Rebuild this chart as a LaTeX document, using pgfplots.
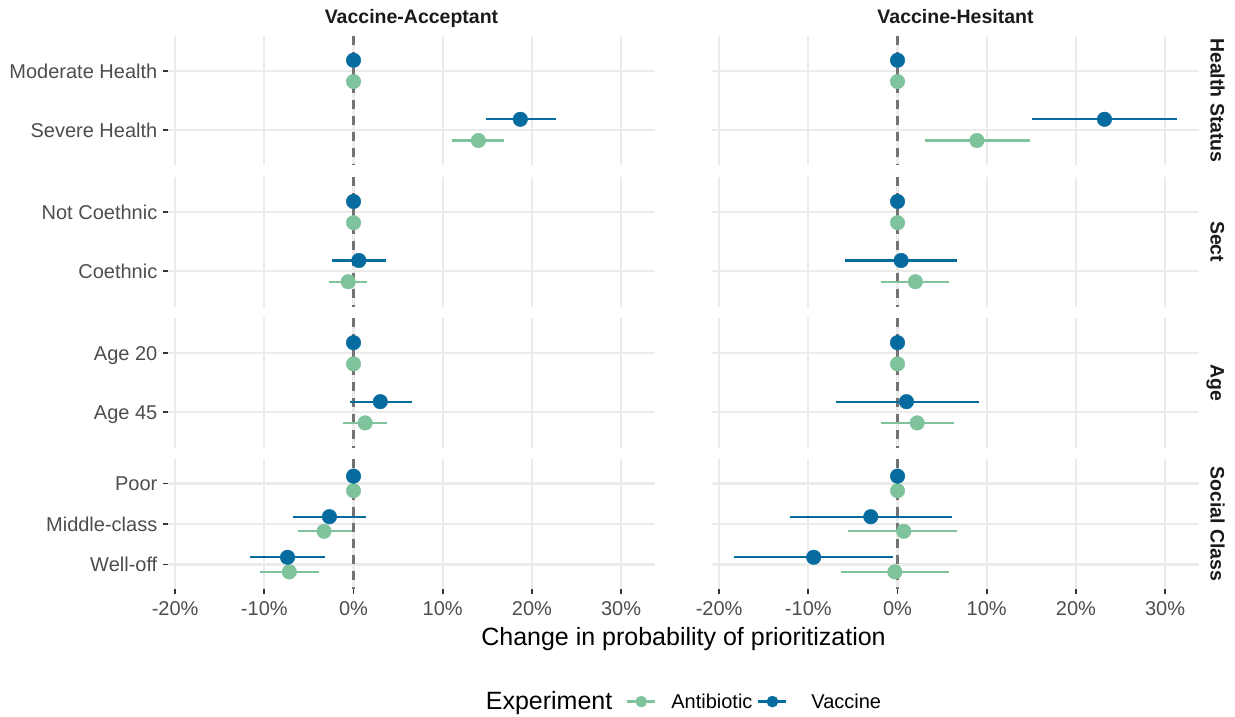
\documentclass[border=0pt]{standalone}
\usepackage{pgfplots}
\pgfplotsset{compat=1.18}
\usepackage{pgfplotstable}
\usepackage{fontspec}
\setmainfont{Liberation Sans}
\definecolor{cVac}{HTML}{066B9F}
\definecolor{cAnt}{HTML}{7FC39D}
\definecolor{gridc}{HTML}{EBEBEB}
\definecolor{tickc}{HTML}{333333}
\definecolor{labc}{HTML}{4D4D4D}
\definecolor{stripc}{HTML}{1A1A1A}

% Vaccine-Acceptant
\pgfplotstableread{
pos vest vlo vhi aest alo ahi
1 0 0 0 0 0 0
2 18.7 14.9 22.7 14.0 11.0 16.9
}\AHealth
\pgfplotstableread{
pos vest vlo vhi aest alo ahi
1 0 0 0 0 0 0
2 0.6 -2.4 3.6 -0.6 -2.7 1.5
}\ASect
\pgfplotstableread{
pos vest vlo vhi aest alo ahi
1 0 0 0 0 0 0
2 3.0 -0.45 6.5 1.3 -1.2 3.8
}\AAge
\pgfplotstableread{
pos vest vlo vhi aest alo ahi
1 0 0 0 0 0 0
2 -2.7 -6.8 1.4 -3.3 -6.2 -0.2
3 -7.4 -11.6 -3.2 -7.2 -10.5 -3.9
}\AClass
% Vaccine-Hesitant
\pgfplotstableread{
pos vest vlo vhi aest alo ahi
1 0 0 0 0 0 0
2 23.2 15.1 31.3 8.9 3.1 14.8
}\HHealth
\pgfplotstableread{
pos vest vlo vhi aest alo ahi
1 0 0 0 0 0 0
2 0.4 -5.9 6.7 2.0 -1.8 5.8
}\HSect
\pgfplotstableread{
pos vest vlo vhi aest alo ahi
1 0 0 0 0 0 0
2 1.0 -6.9 9.1 2.2 -1.9 6.3
}\HAge
\pgfplotstableread{
pos vest vlo vhi aest alo ahi
1 0 0 0 0 0 0
2 -3.0 -12.1 6.1 0.7 -5.5 6.7
3 -9.4 -18.3 -0.5 -0.3 -6.3 5.8
}\HClass

\pgfplotsset{
  panel/.style={
    scale only axis, width=487pt, height=129.8pt,
    xmin=-20.8, xmax=33.8, ymin=0.4, y dir=reverse,
    axis line style={draw=none},
    xtick={-20,-10,0,10,20,30}, xticklabels={},
    xtick pos=bottom, ytick pos=left,
    grid=major, major grid style={line width=2.3pt, gridc},
    tick align=outside, major tick length=5pt,
    xtick style={draw=none}, ytick style={draw=none},
    ticklabel style={font=\fontsize{20}{24}\selectfont, text=labc, inner sep=0pt},
    yticklabel style={anchor=base east, yshift=-7.2pt, xshift=-5.5pt},
    xticklabel style={anchor=base, yshift=-21.5pt},
    clip=false,
  },
  leftp/.style={ytick style={draw=tickc, line width=1.8pt}},
  rightp/.style={yticklabels={}},
  bottomp/.style={xtick style={draw=tickc, line width=1.8pt},
    xticklabels={-20\%,-10\%,0\%,10\%,20\%,30\%}},
  vac/.style={forget plot, only marks, mark=*, mark size=7.3pt, color=cVac,
    mark options={draw=none, fill=cVac},
    error bars/.cd, x dir=both, x explicit, error mark=none,
    error bar style={line width=2.3pt, cVac}},
  ant/.style={forget plot, only marks, mark=*, mark size=7.3pt, color=cAnt,
    mark options={draw=none, fill=cAnt},
    error bars/.cd, x dir=both, x explicit, error mark=none,
    error bar style={line width=2.3pt, cAnt}},
}

\newcommand{\zeroline}[1]{\draw[black!55, line width=2.2pt, dash pattern=on 9pt off 7pt] (axis cs:0,0.4) -- (axis cs:0,#1);}
\newcommand{\plotpair}[1]{%
  \addplot[ant] table[x=aest, y expr=\thisrow{pos}+0.18,
    x error plus expr=\thisrow{ahi}-\thisrow{aest},
    x error minus expr=\thisrow{aest}-\thisrow{alo}] {#1};
  \addplot[vac] table[x=vest, y expr=\thisrow{pos}-0.18,
    x error plus expr=\thisrow{vhi}-\thisrow{vest},
    x error minus expr=\thisrow{vest}-\thisrow{vlo}] {#1};
}

\begin{document}
\begin{tikzpicture}
\path[use as bounding box] (0pt,0pt) rectangle (1235pt,-717pt);

% ---- Row 1: Health Status
\begin{axis}[panel, leftp, at={(168pt,-35.5pt)}, anchor=north west,
  ymax=2.6, ytick={1,2}, yticklabels={Moderate Health, Severe Health}]
\zeroline{2.6}
\plotpair{\AHealth}
\end{axis}
\begin{axis}[panel, rightp, at={(712pt,-35.5pt)}, anchor=north west,
  ymax=2.6, ytick={1,2}]
\zeroline{2.6}
\plotpair{\HHealth}
\end{axis}

% ---- Row 2: Sect
\begin{axis}[panel, leftp, at={(168pt,-176.7pt)}, anchor=north west,
  ymax=2.6, ytick={1,2}, yticklabels={Not Coethnic, Coethnic}]
\zeroline{2.6}
\plotpair{\ASect}
\end{axis}
\begin{axis}[panel, rightp, at={(712pt,-176.7pt)}, anchor=north west,
  ymax=2.6, ytick={1,2}]
\zeroline{2.6}
\plotpair{\HSect}
\end{axis}

% ---- Row 3: Age
\begin{axis}[panel, leftp, at={(168pt,-317.9pt)}, anchor=north west,
  ymax=2.6, ytick={1,2}, yticklabels={Age 20, Age 45}]
\zeroline{2.6}
\plotpair{\AAge}
\end{axis}
\begin{axis}[panel, rightp, at={(712pt,-317.9pt)}, anchor=north west,
  ymax=2.6, ytick={1,2}]
\zeroline{2.6}
\plotpair{\HAge}
\end{axis}

% ---- Row 4: Social Class
\begin{axis}[panel, leftp, bottomp, at={(168pt,-459.1pt)}, anchor=north west,
  ymax=3.6, ytick={1,2,3}, yticklabels={Poor, Middle-class, Well-off},
  legend style={at={(1.0585,-0.868)}, anchor=center, draw=none, fill=none,
    legend columns=3, font=\fontsize{20}{24}\selectfont,
    /tikz/every even column/.append style={column sep=0pt},
    /tikz/every odd column/.append style={column sep=0pt},
    nodes={inner sep=0pt}},
  legend cell align=left]
\zeroline{3.6}
\plotpair{\AClass}
\addlegendimage{empty legend}
\addlegendentry{\fontsize{25}{30}\selectfont Experiment}
\addlegendimage{legend image code/.code={\path[draw=none, fill=none] (-15pt,0pt) -- (44pt,0pt); \draw[cAnt, line width=2.3pt] (0pt,0pt) -- (28pt,0pt); \fill[cAnt] (14pt,0pt) circle (5.6pt);}}
\addlegendentry{Antibiotic}
\addlegendimage{legend image code/.code={\path[draw=none, fill=none] (-6pt,0pt) -- (53pt,0pt); \draw[cVac, line width=2.3pt] (0pt,0pt) -- (28pt,0pt); \fill[cVac] (14pt,0pt) circle (5.6pt);}}
\addlegendentry{Vaccine}
\end{axis}
\begin{axis}[panel, rightp, bottomp, at={(712pt,-459.1pt)}, anchor=north west,
  ymax=3.6, ytick={1,2,3}]
\zeroline{3.6}
\plotpair{\HClass}
\end{axis}

% strips
\node[font=\bfseries\fontsize{19.5}{23}\selectfont, text=stripc, anchor=base] at (411.5pt,-23.3pt) {Vaccine-Acceptant};
\node[font=\bfseries\fontsize{19.5}{23}\selectfont, text=stripc, anchor=base] at (955.5pt,-23.3pt) {Vaccine-Hesitant};
\node[font=\bfseries\fontsize{19.5}{23}\selectfont, text=stripc, anchor=base, rotate=-90] at (1210.5pt,-100.4pt) {Health Status};
\node[font=\bfseries\fontsize{19.5}{23}\selectfont, text=stripc, anchor=base, rotate=-90] at (1210.5pt,-241.6pt) {Sect};
\node[font=\bfseries\fontsize{19.5}{23}\selectfont, text=stripc, anchor=base, rotate=-90] at (1210.5pt,-382.8pt) {Age};
\node[font=\bfseries\fontsize{19.5}{23}\selectfont, text=stripc, anchor=base, rotate=-90] at (1210.5pt,-524pt) {Social Class};
% x axis title
\node[font=\fontsize{25}{30}\selectfont, anchor=base] at (683.5pt,-645pt) {Change in probability of prioritization};
\end{tikzpicture}
\end{document}
